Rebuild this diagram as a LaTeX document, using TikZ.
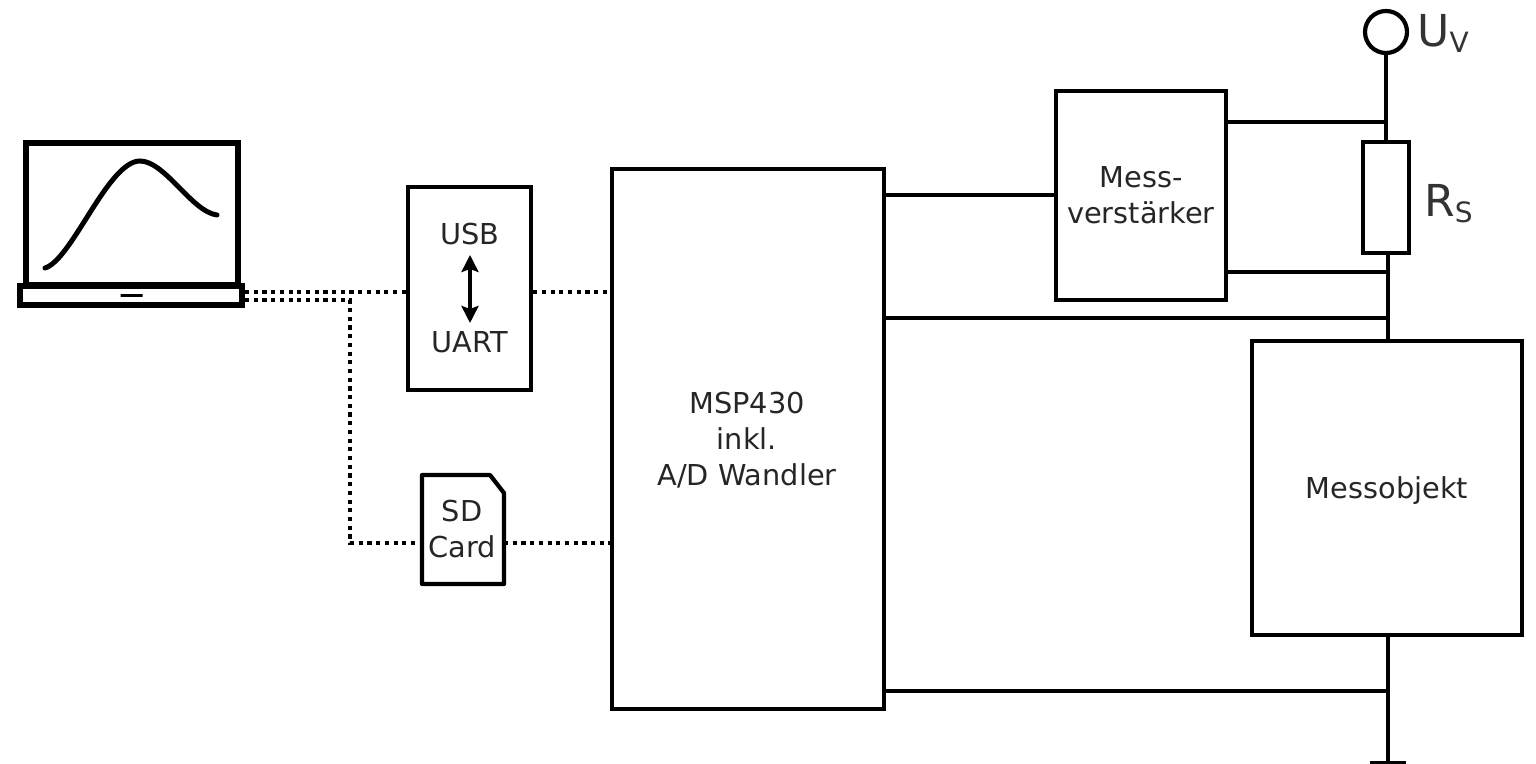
\documentclass[tikz,border=0pt]{standalone}
\usepackage{fontspec}
\setmainfont{DejaVu Sans}
\usetikzlibrary{arrows,arrows.meta,positioning,calc}
\tikzset{
  block/.style={draw,line width=2.1pt,inner sep=0pt,align=center,text=black!85,font=\fontsize{14.4}{18}\selectfont},
  wire/.style={line width=2.1pt},
  dotwire/.style={line width=1.75pt,dash pattern=on 2.1pt off 2.25pt},
  lbl/.style={inner sep=0pt,text=black!85,font=\fontsize{14.4}{18}\selectfont,align=center},
  symbol/.style={inner sep=0pt,anchor=west,text=black!80,font=\fontsize{22}{24}\selectfont}
}
\newcommand{\subs}[1]{\raisebox{-3pt}{\fontsize{14}{14}\selectfont #1}}
\begin{document}
\begin{tikzpicture}[x=0.5pt,y=-0.5pt]
\useasboundingbox (0,0) rectangle (1536,764);

% laptop
\node[block,line width=3pt,minimum width=105.75pt,minimum height=71pt] (screen) at (131.75,214) {};
\node[block,line width=3pt,minimum width=111pt,minimum height=9.5pt] (base) at (131,295.5) {};
\node[block,line width=1.5pt,minimum width=11pt,minimum height=0pt] (touch) at (131.5,295.7) {};
\coordinate (cs) at (45,268);
\coordinate (ce) at (217,215);
\draw[line width=2.5pt,line cap=round] (cs) .. controls (72,260) and (108,161) .. (140,161)
  .. controls (165,161) and (192,212) .. (ce);

% blocks
\node[block,minimum width=61.5pt,minimum height=101.5pt] (usb) at (469.5,288.5) {};
\node[lbl] (usbt) at (470,234) {USB};
\node[lbl] (uart) at (470,342) {UART};
\draw[line width=1.8pt,{Stealth[length=8.5pt,width=8.5pt,inset=1.5pt]}-{Stealth[length=8.5pt,width=8.5pt,inset=1.5pt]}] (470,255) -- (470,323);

\coordinate (sda) at (422,475);
\draw[wire,line join=round] (sda) -- (490,475) -- (504,493) -- (504,584) -- (422,584) -- cycle;
\node[lbl] (sd) at (462,511) {SD};
\node[lbl] (card) at (462,547) {Card};
\coordinate (sdw) at (422,543);
\coordinate (sde) at (504,543);

\node[block,minimum width=136pt,minimum height=270pt] (msp) at (748,439) {};
\node[lbl] (mspt) at (747,440) {MSP430\\inkl.\\A/D Wandler};
\node[block,minimum width=85pt,minimum height=104.5pt] (amp) at (1141,195.5) {Mess-\\verstärker};
\node[block,minimum width=23pt,minimum height=55.5pt] (rs) at (1386,197.5) {};
\node[block,minimum width=135pt,minimum height=147pt] (obj) at (1387,488) {};
\node[lbl] (objt) at (1387,491) {Messobjekt};
\node[draw,circle,line width=2.1pt,minimum size=21pt,inner sep=0pt] (uv) at (1386,32) {};
\node[symbol] (uvt) at (1417,33) {U\subs{V}};
\node[symbol] (rst) at (1424,204) {R\subs{S}};

% serial lines
\coordinate (j1) at (350,300);
\draw[dotwire] (base.east |- 0,292) -- (usb.west |- 0,292);
\draw[dotwire] (usb.east |- 0,292) -- (msp.west |- 0,292);
\draw[dotwire] (base.east |- j1) -- (j1) -- (j1 |- sdw) -- (sdw);
\draw[dotwire] (sde) -- (msp.west |- sde);

% supply and measuring lines
\coordinate (gnd) at (1388,763);
\draw[wire] (uv) -- (uv |- rs.north);
\draw[wire] (amp.east |- 0,122) -- (uv |- 0,122);
\draw[wire] (gnd |- rs.south) -- (gnd |- obj.north);
\draw[wire] (amp.east |- 0,272) -- (gnd |- 0,272);
\draw[wire] (msp.east |- 0,195) -- (amp.west |- 0,195);
\draw[wire] (msp.east |- 0,318) -- (gnd |- 0,318);
\draw[wire] (gnd |- obj.south) -- (gnd);
\draw[wire] (msp.east |- 0,691) -- (gnd |- 0,691);
\draw[wire] (1370,763) -- (1406,763);
\end{tikzpicture}
\end{document}
